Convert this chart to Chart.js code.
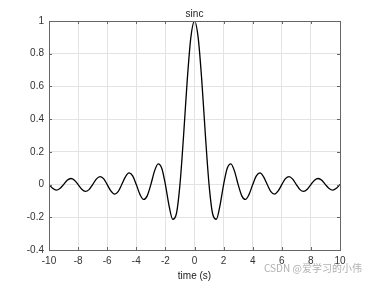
<!DOCTYPE html>
<html>
<head>
<meta charset="utf-8">
<script src="https://cdn.jsdelivr.net/npm/chart.js@4"></script>
<style>
  html, body { margin: 0; padding: 0; background: #fff; }
  #wrap { width: 376px; height: 282px; }
</style>
</head>
<body>
<div id="wrap"><canvas id="canvas" width="376" height="282"></canvas></div>
<script>
// time samples (s), right half; the curve is symmetric around 0
const timeHalf = [0, 0.25, 0.5, 0.75, 1, 1.25, 1.5, 1.75, 2, 2.25, 2.5, 2.75, 3, 3.25, 3.5, 3.75,
  4, 4.25, 4.5, 4.75, 5, 5.25, 5.5, 5.75, 6, 6.25, 6.5, 6.75, 7, 7.25, 7.5, 7.75,
  8, 8.25, 8.5, 8.75, 9, 9.25, 9.5, 9.75, 10];
// sinc values at those times
const sincHalf = [1, 0.900, 0.637, 0.300, 0, -0.180, -0.212, -0.129, 0, 0.100, 0.127, 0.082, 0, -0.069, -0.091, -0.060,
  0, 0.053, 0.071, 0.047, 0, -0.043, -0.058, -0.039, 0, 0.036, 0.049, 0.033, 0, -0.031, -0.042, -0.029,
  0, 0.027, 0.037, 0.026, 0, -0.024, -0.034, -0.023, 0];
const xTicks = [-10, -8, -6, -4, -2, 0, 2, 4, 6, 8, 10];
const yTicks = [-0.4, -0.2, 0, 0.2, 0.4, 0.6, 0.8, 1];

const points = [];
for (let i = timeHalf.length - 1; i > 0; i--) points.push({ x: -timeHalf[i], y: sincHalf[i] });
for (let i = 0; i < timeHalf.length; i++) points.push({ x: timeHalf[i], y: sincHalf[i] });

const FONT = '"Liberation Sans", Arial, sans-serif';

// box round the plot, short inward ticks (matlab style), title and watermark
const boxPlugin = {
  id: 'box',
  afterDraw(chart) {
    const { ctx, chartArea: a, scales } = chart;
    ctx.save();
    ctx.strokeStyle = '#666';
    ctx.lineWidth = 1;
    ctx.beginPath();
    xTicks.forEach((t) => {
      const px = Math.round(scales.x.getPixelForValue(t)) + 0.5;
      ctx.moveTo(px, a.bottom); ctx.lineTo(px, a.bottom - 3);
      ctx.moveTo(px, a.top); ctx.lineTo(px, a.top + 3);
    });
    yTicks.forEach((t) => {
      const py = Math.round(scales.y.getPixelForValue(t)) + 0.5;
      ctx.moveTo(a.left, py); ctx.lineTo(a.left + 3, py);
      ctx.moveTo(a.right, py); ctx.lineTo(a.right - 3, py);
    });
    ctx.stroke();
    ctx.strokeRect(Math.round(a.left) + 0.5, Math.round(a.top) + 0.5,
      Math.round(a.right - a.left), Math.round(a.bottom - a.top));

    ctx.fillStyle = '#222';
    ctx.font = '10px ' + FONT;
    ctx.textAlign = 'center';
    ctx.textBaseline = 'middle';
    ctx.fillText('sinc', (a.left + a.right) / 2, 14);

    ctx.fillStyle = '#b0b0b0';
    ctx.font = '10px "Noto Sans CJK SC", sans-serif';
    ctx.textAlign = 'left';
    ctx.fillText('CSDN @爱学习的小伟', 264, 268);
    ctx.restore();
  },
};

new Chart(document.getElementById('canvas'), {
  type: 'line',
  data: {
    datasets: [{
      data: points,
      borderColor: '#000',
      borderWidth: 1.3,
      pointRadius: 0,
      fill: false,
      cubicInterpolationMode: 'monotone',
    }],
  },
  options: {
    responsive: false,
    animation: false,
    layout: { padding: { left: 0, right: 36, top: 21, bottom: 0 } },
    plugins: {
      legend: { display: false },
      tooltip: { enabled: false },
      title: { display: false },
    },
    scales: {
      x: {
        type: 'linear',
        min: -10,
        max: 10,
        afterBuildTicks(scale) { scale.ticks = xTicks.map((v) => ({ value: v })); },
        afterFit(scale) { scale.height = 32; },
        grid: { color: '#e3e3e3', drawTicks: false },
        border: { display: false },
        ticks: { color: '#333', padding: 5, maxRotation: 0, font: { family: FONT, size: 10 } },
        title: {
          display: true,
          text: 'time (s)',
          color: '#222',
          padding: { top: 1, bottom: 0 },
          font: { family: FONT, size: 10 },
        },
      },
      y: {
        min: -0.4,
        max: 1,
        afterBuildTicks(scale) { scale.ticks = yTicks.map((v) => ({ value: v })); },
        afterFit(scale) { scale.width = 49; },
        grid: { color: '#e3e3e3', drawTicks: false },
        border: { display: false },
        ticks: {
          color: '#333',
          padding: 5,
          font: { family: FONT, size: 10 },
          callback: (v) => String(Math.round(v * 10) / 10),
        },
      },
    },
  },
  plugins: [boxPlugin],
});
</script>
</body>
</html>
